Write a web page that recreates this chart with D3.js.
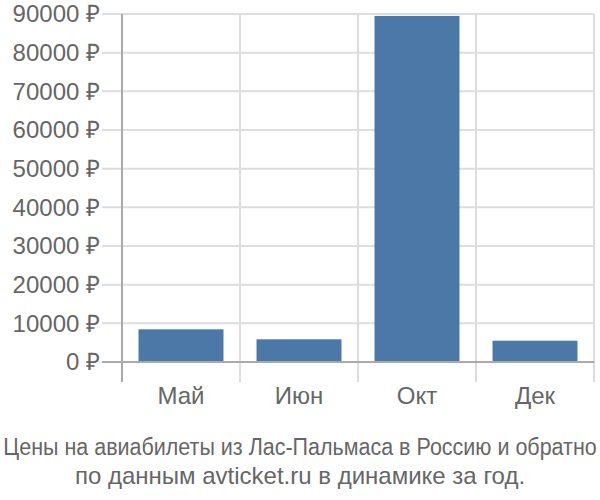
<!DOCTYPE html>
<html><head><meta charset="utf-8">
<script src="https://cdn.jsdelivr.net/npm/d3@7"></script>
<style>body{margin:0;background:#fff}svg{display:block}text{font-family:"Liberation Sans",Arial,sans-serif}</style>
</head><body>
<svg id="c" width="600" height="500"></svg>
<script>
const categories = ["Май","Июн","Окт","Дек"];
const values = [8450, 5870, 89500, 5510];
const yTicks = [0,10000,20000,30000,40000,50000,60000,70000,80000,90000];
const titleLines = ["Цены на авиабилеты из Лас-Пальмаса в Россию и обратно","по данным avticket.ru в динамике за год."];

const svg = d3.select("#c");
const L=122, R=594, T=14, B=362;
const x = d3.scaleBand().domain(categories).range([L,R]).paddingInner(0.28).paddingOuter(0.14);
const y = d3.scaleLinear().domain([0,90000]).range([B,T]);
const grid="#dddddd", axis="#aaaaaa", txt="#666666";

svg.append("g").selectAll("line").data(yTicks).join("line")
  .attr("x1",102).attr("x2",R).attr("y1",d=>y(d)).attr("y2",d=>y(d))
  .attr("stroke",grid).attr("stroke-width",2);
const bounds = categories.map((c,i)=>L+i*x.step());
bounds.push(R);
svg.append("g").selectAll("line").data(bounds).join("line")
  .attr("x1",d=>d).attr("x2",d=>d).attr("y1",T).attr("y2",382)
  .attr("stroke",(d,i)=>i===0?axis:grid).attr("stroke-width",2);

svg.append("g").selectAll("rect").data(values).join("rect")
  .attr("x",(d,i)=>x(categories[i])).attr("width",x.bandwidth())
  .attr("y",d=>y(d)).attr("height",d=>B-y(d)-1)
  .attr("fill","#4c78a8");
svg.append("line").attr("x1",102).attr("x2",R).attr("y1",B).attr("y2",B).attr("stroke",axis).attr("stroke-width",2);

svg.append("g").selectAll("text").data(yTicks).join("text")
  .attr("x",100).attr("y",d=>y(d)).attr("dy","0.35em").attr("text-anchor","end")
  .attr("fill",txt).style("font-size","24px").text(d=>d+" ₽");
svg.append("g").selectAll("text").data(categories).join("text")
  .attr("x",d=>x(d)+x.bandwidth()/2).attr("y",396).attr("dy","0.35em").attr("text-anchor","middle")
  .attr("fill",txt).style("font-size","24px").text(d=>d);
svg.append("g").selectAll("text").data(titleLines).join("text")
  .attr("x",0).attr("y",0).attr("dy","0.35em").attr("text-anchor","middle")
  .attr("fill",txt).style("font-size","24px")
  .text(d=>d)
  .each(function(d,i){
    const w = this.getComputedTextLength();
    const sx = Math.min(1, 594/w);
    d3.select(this).attr("transform",`translate(300,${447+i*29}) scale(${sx},1)`);
  });
</script>
</body></html>
